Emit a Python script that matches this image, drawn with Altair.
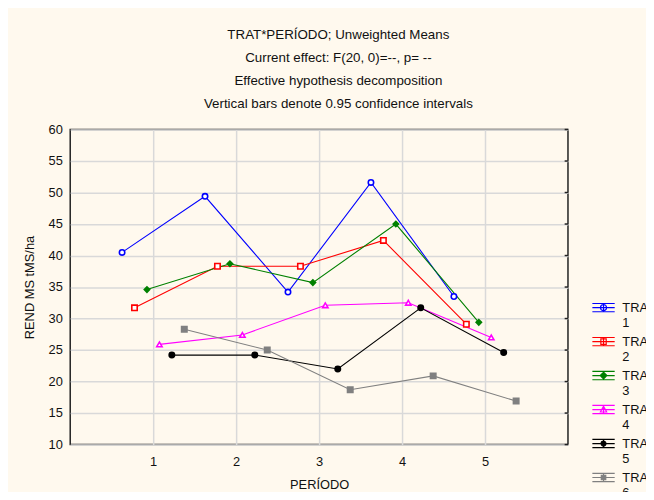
import altair as alt
import pandas as pd

periods = [1, 2, 3, 4, 5]
series_names = ["TRAT 1", "TRAT 2", "TRAT 3", "TRAT 4", "TRAT 5", "TRAT 6"]
trat1 = [40.5, 49.4, 34.2, 51.6, 33.5]
trat2 = [31.7, 38.3, 38.3, 42.4, 29.1]
trat3 = [34.6, 38.7, 35.7, 45.0, 29.4]
trat4 = [25.9, 27.4, 32.1, 32.5, 27.0]
trat5 = [24.2, 24.2, 22.0, 31.7, 24.6]
trat6 = [28.3, 25.0, 18.7, 20.9, 16.9]
y_ticks = [10, 15, 20, 25, 30, 35, 40, 45, 50, 55, 60]
title_lines = [
    "TRAT*PERÍODO; Unweighted Means",
    "Current effect: F(20, 0)=--, p=  --",
    "Effective hypothesis decomposition",
    "Vertical bars denote 0.95 confidence intervals",
]

colors = ["#0000ff", "#ff0000", "#008000", "#ff00ff", "#000000", "#808080"]
fills = ["#ffffff", "#ffffff", "#008000", "#ffffff", "#000000", "#808080"]
shapes = ["circle", "square", "diamond", "triangle-up", "circle", "square"]

bars = "M-1,-0.78H1M-1,-0.41H1M-1,-0.04H1M0,-0.78V-0.04"
legend_paths = [
    bars + "M0.27,-0.41A0.27,0.27 0 1,1 -0.27,-0.41A0.27,0.27 0 1,1 0.27,-0.41Z",
    bars + "M-0.24,-0.65H0.24V-0.17H-0.24Z",
    bars + "M0,-0.71L0.3,-0.41L0,-0.11L-0.3,-0.41Z",
    bars + "M0,-0.71L0.28,-0.19H-0.28Z",
    bars + "M0.22,-0.41A0.22,0.22 0 1,1 -0.22,-0.41A0.22,0.22 0 1,1 0.22,-0.41Z",
    bars + "M-0.2,-0.61H0.2V-0.21H-0.2Z",
]

rows = []
for i, (name, vals) in enumerate(zip(series_names, [trat1, trat2, trat3, trat4, trat5, trat6])):
    for p, v in zip(periods, vals):
        rows.append({"serie": name, "idx": i, "periodo": p, "rend": v})
df = pd.DataFrame(rows)
ticks_df = pd.DataFrame({"rend": y_ticks})

FONT = "Liberation Sans"

x_scale = alt.Scale(domain=[0, 6], nice=False, zero=False)
y_scale = alt.Scale(domain=[10, 60], nice=False, zero=False)
x_axis = alt.Axis(values=periods, title="PERÍODO", titleX=252, titleY=41,
                  titleAlign="center", titleBaseline="middle", labelPadding=11.5,
                  format="d")
y_axis = alt.Axis(values=y_ticks, title="REND MS tMS/ha", titleX=-41, titleY=159.5,
                  titleAngle=270, titleAlign="center", titleBaseline="middle",
                  labelPadding=8)


def xq(field):
    return alt.X(field, type="quantitative", scale=x_scale, axis=x_axis)


y_enc = alt.Y("rend:Q", scale=y_scale, axis=y_axis)

stroke_scale = alt.Scale(domain=series_names, range=colors)
fill_scale = alt.Scale(domain=series_names, range=fills)

base = alt.Chart(df).transform_calculate(
    xpos="datum.periodo + (datum.idx - 2.5) * 0.15"
)

lines = base.mark_line(strokeWidth=1.1).encode(
    x=xq("xpos"), y=y_enc,
    stroke=alt.Stroke("serie:N", scale=stroke_scale, legend=None),
    detail="serie:N",
)

points = base.mark_point(strokeWidth=1.6, opacity=1, size=30).encode(
    x=xq("xpos"), y=y_enc,
    stroke=alt.Stroke("serie:N", scale=stroke_scale, legend=None),
    fill=alt.Fill("serie:N", scale=fill_scale, legend=None),
    shape=alt.Shape("serie:N", scale=alt.Scale(domain=series_names, range=shapes), legend=None),
)

# inward ticks on the right frame
right_ticks = alt.Chart(ticks_df).transform_calculate(
    xa="6", xb="5.96"
).mark_rule(color="#222222", strokeWidth=1.5).encode(
    x=xq("xa"), x2="xb:Q", y=y_enc,
)

leg = alt.Legend(
    title=None, orient="none", legendX=528, legendY=173,
    symbolSize=511, symbolStrokeWidth=1.2, labelFontSize=13, labelFont=FONT,
    labelOffset=7, labelExpr="split(datum.label, ' ')", labelBaseline="alphabetic",
    labelColor="#111111", rowPadding=4.4, padding=0, labelLimit=200,
)

legend_layer = alt.Chart(df).transform_filter("false").mark_point(strokeWidth=1.2, opacity=1).encode(
    stroke=alt.Stroke("serie:N", scale=stroke_scale, legend=leg),
    fill=alt.Fill("serie:N", scale=fill_scale, legend=leg),
    shape=alt.Shape("serie:N", scale=alt.Scale(domain=series_names, range=legend_paths), legend=leg),
)

chart = alt.layer(lines, points, right_ticks, legend_layer).resolve_scale(
    shape="independent", stroke="independent", fill="independent"
).properties(
    width=504, height=319,
    autosize=alt.AutoSizeParams(type="none"),
    padding={"left": 63, "top": 120, "right": 79, "bottom": 45},
    background="#fff9ee",
    title=alt.Title(text=title_lines, fontSize=13.5, fontWeight="normal", font=FONT,
                    lineHeight=23.5, anchor="middle", dx=19.5, offset=13, color="#111111"),
).configure_view(
    fill="white", stroke="#222222", strokeWidth=1.5
).configure_axis(
    grid=True, gridColor="#d9d9d9", gridWidth=1.5, domain=False, ticks=False,
    labelFontSize=13, labelFont=FONT, labelColor="#111111",
    titleFontSize=13, titleFont=FONT, titleFontWeight="normal", titleColor="#111111",
)

chart.save("out.html", embed_options={"renderer": "svg", "actions": False})
